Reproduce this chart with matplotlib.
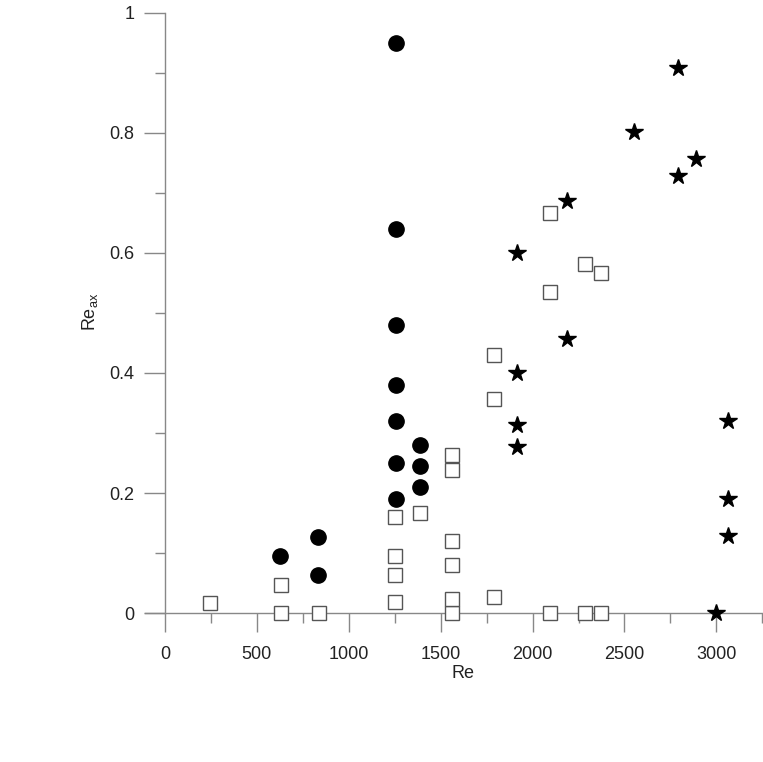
import numpy as np
import matplotlib
matplotlib.use("Agg")
import matplotlib.pyplot as plt
from matplotlib.ticker import MultipleLocator

plt.rcParams['font.family'] = ['Liberation Sans', 'DejaVu Sans']
plt.rcParams['mathtext.fontset'] = 'custom'
plt.rcParams['mathtext.rm'] = 'Liberation Sans'
plt.rcParams['mathtext.it'] = 'Liberation Sans'

# filled circles
circ_re = [1255, 1255, 1255, 1255, 1255, 1255, 1255, 1390, 1390, 1390, 625, 835, 835]
circ_y = [0.95, 0.64, 0.48, 0.38, 0.32, 0.25, 0.19, 0.28, 0.245, 0.21, 0.095, 0.127, 0.063]

# open squares
sq_re = [245, 631, 631, 838, 1251, 1251, 1251, 1251, 1390,
         1562, 1562, 1562, 1562, 1562, 1562,
         1790, 1790, 1790, 2093, 2093, 2093, 2283, 2283, 2372, 2372]
sq_y = [0.017, 0.0, 0.047, 0.0, 0.018, 0.064, 0.095, 0.16, 0.167,
        0.0, 0.024, 0.08, 0.12, 0.238, 0.263,
        0.027, 0.357, 0.43, 0.0, 0.535, 0.667, 0.0, 0.582, 0.0, 0.567]

# stars
star_re = [1913, 1913, 1913, 1913, 2190, 2190, 2553, 2789, 2789, 2891, 3062, 3062, 3062, 3000]
star_y = [0.6, 0.4, 0.313, 0.276, 0.686, 0.457, 0.801, 0.909, 0.728, 0.756, 0.32, 0.19, 0.128, 0.0]

fig = plt.figure(figsize=(7.63, 7.62), dpi=100)
ax = fig.add_axes([145/763, 149/762, 618/763, 600/762])

ax.plot(sq_re, sq_y, 's', ms=9.4, mfc='white', mec='#555555', mew=1.0, clip_on=False, zorder=3)
ax.plot(circ_re, circ_y, 'o', ms=11, color='black', clip_on=False, zorder=4)
ax.plot(star_re, star_y, '*', ms=13, color='black', clip_on=False, zorder=4)

ax.set_xlim(-109, 3254)
ax.set_ylim(0, 1)

for s in ['top', 'right']:
    ax.spines[s].set_visible(False)
ax.spines['left'].set_position(('data', 0))
for s in ['left', 'bottom']:
    ax.spines[s].set_color('#888888')
    ax.spines[s].set_linewidth(1.0)

ax.xaxis.set_minor_locator(MultipleLocator(250))
ax.yaxis.set_minor_locator(MultipleLocator(0.1))
ax.set_xticks([0, 500, 1000, 1500, 2000, 2500, 3000])
ax.set_xticklabels(['0', '500', '1000', '1500', '2000', '2500', '3000'])
ax.set_yticks([0, 0.2, 0.4, 0.6, 0.8, 1.0])
ax.set_yticklabels(['0', '0.2', '0.4', '0.6', '0.8', '1'])

ax.tick_params(axis='x', which='major', direction='out', length=14, width=1,
               color='#888888', pad=10, labelsize=13, labelcolor='#222222')
ax.tick_params(axis='x', which='minor', direction='out', length=7, width=1, color='#888888')
ax.tick_params(axis='y', which='major', direction='out', length=15, width=1,
               color='#888888', pad=7, labelsize=13, labelcolor='#222222')
ax.tick_params(axis='y', which='minor', direction='out', length=7, width=1, color='#888888')

fig.text(463/763, 1 - 674/762, 'Re', ha='center', va='center', fontsize=13, color='#222222')
fig.text(90/763, 1 - 312/762, 'Re$_{\\mathrm{ax}}$', ha='center', va='center',
         rotation=90, fontsize=13, color='#222222')

fig.savefig('out.png', dpi=100, facecolor='white')
